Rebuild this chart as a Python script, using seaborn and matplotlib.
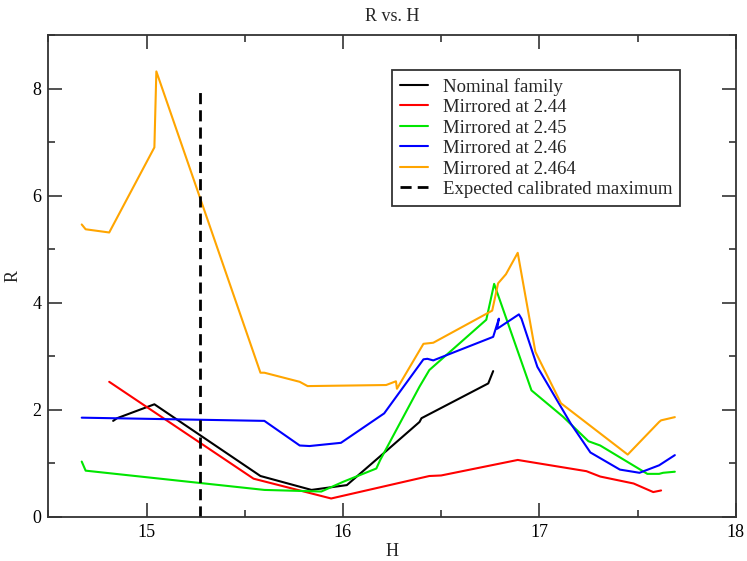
import numpy as np
import pandas as pd
import matplotlib
matplotlib.use("Agg")
import matplotlib.pyplot as plt
import seaborn as sns
from matplotlib.ticker import MultipleLocator
from matplotlib.lines import Line2D

# ---- data ----
nominal_H = [14.83, 14.85, 15.04, 15.58, 15.84, 16.02, 16.19, 16.39, 16.40, 16.74, 16.765]
nominal_R = [1.79, 1.84, 2.10, 0.76, 0.50, 0.59, 1.13, 1.77, 1.84, 2.49, 2.72]

m244_H = [14.81, 15.545, 15.78, 15.94, 16.44, 16.50, 16.89, 17.24, 17.31, 17.48, 17.58, 17.62]
m244_R = [2.52, 0.71, 0.49, 0.34, 0.76, 0.77, 1.06, 0.85, 0.75, 0.62, 0.46, 0.49]

m245_H = [14.67, 14.69, 15.60, 15.89, 16.00, 16.17, 16.19, 16.39, 16.44, 16.73, 16.77,
          16.96, 17.12, 17.25, 17.31, 17.55, 17.61, 17.63, 17.69]
m245_R = [1.03, 0.86, 0.50, 0.47, 0.65, 0.90, 1.06, 2.43, 2.74, 3.68, 4.35,
          2.36, 1.87, 1.41, 1.33, 0.80, 0.80, 0.82, 0.84]

m246_H = [14.67, 15.60, 15.78, 15.83, 15.99, 16.21, 16.41, 16.43, 16.46, 16.765, 16.794,
          16.785, 16.896, 16.909, 16.99, 17.16, 17.26, 17.41, 17.51, 17.61, 17.69]
m246_R = [1.85, 1.79, 1.33, 1.32, 1.38, 1.93, 2.94, 2.95, 2.92, 3.36, 3.70,
          3.51, 3.78, 3.70, 2.80, 1.74, 1.20, 0.88, 0.82, 0.96, 1.15]

m2464_H = [14.67, 14.69, 14.81, 15.04, 15.05, 15.58, 15.60, 15.78, 15.82, 16.22, 16.27,
           16.275, 16.41, 16.46, 16.76, 16.79, 16.83, 16.89, 16.98, 17.11, 17.45, 17.61,
           17.62, 17.69]
m2464_R = [5.46, 5.37, 5.31, 6.90, 8.32, 2.69, 2.69, 2.52, 2.44, 2.46, 2.53,
           2.39, 3.23, 3.25, 3.85, 4.36, 4.53, 4.93, 3.08, 2.12, 1.16, 1.77,
           1.80, 1.86]

expected_H = [15.27, 15.27]
expected_R = [0.0, 8.0]

labels = ["Nominal family", "Mirrored at 2.44", "Mirrored at 2.45",
          "Mirrored at 2.46", "Mirrored at 2.464"]
expected_label = "Expected calibrated maximum"
colors = ["#000000", "#ff0000", "#00e600", "#0000ff", "#ffa500"]
xticks = [15, 16, 17, 18]
yticks = [0, 2, 4, 6, 8]

series = [(nominal_H, nominal_R), (m244_H, m244_R), (m245_H, m245_R),
          (m246_H, m246_R), (m2464_H, m2464_R)]
frames = []
for lab, (h, r) in zip(labels, series):
    frames.append(pd.DataFrame({"H": h, "R": r, "set": lab}))
df = pd.concat(frames, ignore_index=True)
df_exp = pd.DataFrame({"H": expected_H, "R": expected_R})

# ---- style ----
sns.set_style("ticks")
plt.rcParams["font.family"] = ["Liberation Serif", "DejaVu Serif"]

fig = plt.figure(figsize=(7.47, 5.61), dpi=100)
ax = fig.add_axes([0.0647, 0.079, 0.9202, 0.8586])

sns.lineplot(data=df, x="H", y="R", hue="set", units="set", estimator=None,
             sort=False, palette=dict(zip(labels, colors)), hue_order=labels,
             linewidth=1.5, ax=ax, legend=False)
sns.lineplot(data=df_exp, x="H", y="R", estimator=None, sort=False, color="black",
             linewidth=2.0, ax=ax)
ax.lines[-1].set_dashes((4, 2.2))

ax.set_xlim(14.5, 18)
ax.set_ylim(0, 9)
ax.set_xticks(xticks)
ax.set_yticks(yticks)
ax.xaxis.set_minor_locator(MultipleLocator(0.5))
ax.yaxis.set_minor_locator(MultipleLocator(1))
ax.tick_params(which="both", direction="in", top=True, right=True,
               width=1.2, colors="#333333", labelcolor="black", labelsize=13, pad=5)
ax.tick_params(which="major", length=10)
ax.tick_params(which="minor", length=5)
for sp in ax.spines.values():
    sp.set_linewidth(1.3)
    sp.set_color("#333333")

ax.set_xlabel("H", fontsize=13, labelpad=2)
ax.set_ylabel("R", fontsize=13, labelpad=8)
ax.set_title("R vs. H", fontsize=13, pad=10)

handles = [Line2D([], [], color=c, lw=1.5) for c in colors]
handles.append(Line2D([], [], color="black", lw=2.0, dashes=(4, 2.2)))
leg = ax.legend(handles, labels + [expected_label],
                loc="upper left", bbox_to_anchor=(0.5, 0.927), fontsize=13.5,
                frameon=True, fancybox=False, shadow=False, framealpha=1,
                edgecolor="#333333", handlelength=1.5, handletextpad=0.8,
                borderpad=0.4, labelspacing=0.18, borderaxespad=0)
leg.get_frame().set_linewidth(1.3)

fig.savefig("out.png", dpi=100)
